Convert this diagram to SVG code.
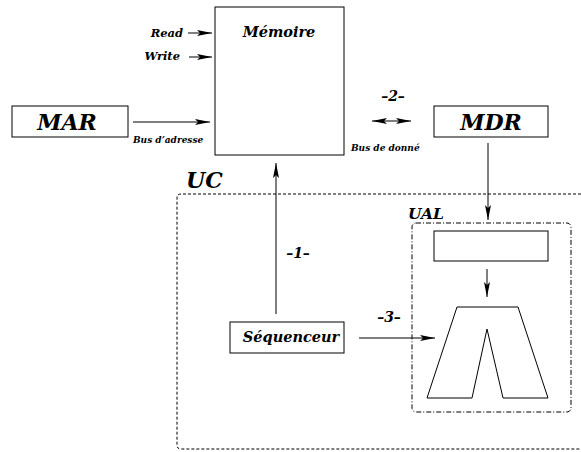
<svg xmlns="http://www.w3.org/2000/svg" width="581" height="452" viewBox="0 0 581 452">
<style>
text{font-family:"DejaVu Serif","Liberation Serif",serif;font-weight:bold;font-style:italic;fill:#000}
.box{fill:#fff;stroke:#000;stroke-width:1}
.ln{stroke:#000;stroke-width:1;fill:none}
.big{font-size:22px}
.mid{font-size:14.5px}
.num{font-size:14px}
.sm{font-size:11.5px}
.xs{font-size:9px}
</style>
<defs>
<marker id="ah" markerWidth="16" markerHeight="8" refX="15" refY="4" orient="auto" markerUnits="userSpaceOnUse">
<path d="M0,1 L15,4 L0,7 L3,4 Z" fill="#000"/>
</marker>
<marker id="as" markerWidth="16" markerHeight="8" refX="1" refY="4" orient="auto" markerUnits="userSpaceOnUse">
<path d="M16,1 L1,4 L16,7 L13,4 Z" fill="#000"/>
</marker>
</defs>
<g id="uc">
<path class="ln" d="M581,194 H181 Q177,194 177,198 V445 Q177,449 181,449 H581" stroke-dasharray="3,2"/>
<text class="big" x="186" y="188">UC</text>
</g>
<g id="ual">
<rect class="ln" x="412" y="223" width="159" height="189" rx="4" stroke-dasharray="5,2,1,2"/>
<text class="mid" x="408" y="219" style="font-size:15.5px">UAL</text>
</g>
<g id="memoire">
<rect class="box" x="215" y="7" width="129" height="148"/>
<text class="mid" x="279" y="37" text-anchor="middle">Mémoire</text>
</g>
<g id="mar">
<rect class="box" x="12" y="106" width="116" height="31"/>
<text class="big" x="67" y="130" text-anchor="middle">MAR</text>
</g>
<g id="mdr">
<rect class="box" x="434" y="106" width="114" height="31"/>
<text class="big" x="491" y="130" text-anchor="middle">MDR</text>
</g>
<g id="sequenceur">
<rect class="box" x="230" y="322" width="114" height="31"/>
<text class="mid" x="291" y="342" text-anchor="middle">Séquenceur</text>
</g>
<g id="registre">
<rect class="box" x="434" y="231" width="114" height="30"/>
</g>
<g id="alu">
<path class="box" d="M457,307 L518,307 L548,398 L503,398 L487,329 L472,398 L427,398 Z"/>
</g>
<g id="labels">
<text class="sm" x="183" y="37" text-anchor="end">Read</text>
<text class="sm" x="180" y="60" text-anchor="end">Write</text>
<text class="xs" x="133" y="143">Bus d’adresse</text>
<text class="xs" x="351" y="151">Bus de donné</text>
<text class="num" x="393" y="101" text-anchor="middle">–2–</text>
<text class="num" x="298" y="258" text-anchor="middle">–1–</text>
<text class="num" x="389" y="322" text-anchor="middle">–3–</text>
</g>
<g id="connectors">
<line class="ln" x1="188" y1="33" x2="212" y2="33" marker-end="url(#ah)"/>
<line class="ln" x1="189" y1="57" x2="212" y2="57" marker-end="url(#ah)"/>
<line class="ln" x1="133" y1="122" x2="210" y2="122" marker-end="url(#ah)"/>
<line class="ln" x1="372" y1="121" x2="411" y2="121" marker-start="url(#as)" marker-end="url(#ah)"/>
<line class="ln" x1="488" y1="143" x2="488" y2="220" marker-end="url(#ah)"/>
<line class="ln" x1="276" y1="314" x2="276" y2="163" marker-end="url(#ah)"/>
<line class="ln" x1="359" y1="338" x2="435" y2="338" marker-end="url(#ah)"/>
<line class="ln" x1="487" y1="269" x2="487" y2="297" marker-end="url(#ah)"/>
</g>
</svg>
